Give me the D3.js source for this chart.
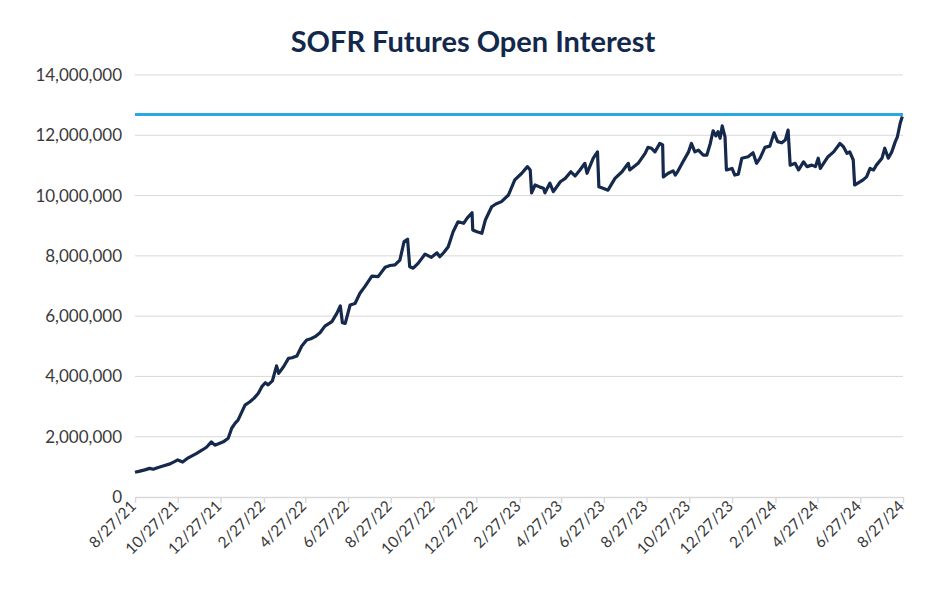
<!DOCTYPE html>
<html>
<head>
<meta charset="utf-8">
<script src="https://cdn.jsdelivr.net/npm/d3@7"></script>
<style>
  body { margin: 0; background: #fff; }
  svg { font-family: Lato, "Noto Sans", sans-serif; }
</style>
</head>
<body>
<svg id="chart"></svg>
<script>
// days since 8/27/21
const dayOffsets = [
  0, 7, 14, 21, 26, 33, 40, 50, 57, 61, 68, 76, 88, 96, 102, 109, 114, 126, 133, 138,
  143, 147, 153, 157, 164, 170, 176, 181, 186, 190, 196, 202, 205, 212, 219, 224, 231, 238, 245, 251,
  257, 264, 271, 281, 288, 293, 296, 300, 307, 314, 321, 328, 338, 347, 357, 364, 371, 378, 384, 389,
  392, 397, 404, 414, 423, 431, 435, 441, 447, 454, 461, 469, 474, 481, 482, 488, 495, 500, 509, 515,
  523, 533, 542, 552, 560, 564, 566, 571, 578, 583, 585, 592, 597, 607, 614, 622, 628, 635, 642, 645,
  654, 660, 662, 668, 675, 685, 695, 704, 706, 718, 728, 732, 737, 742, 749, 753, 754, 761, 768, 771,
  775, 782, 790, 794, 799, 804, 811, 816, 821, 825, 829, 832, 835, 838, 842, 844, 852, 856, 861, 866,
  875, 882, 887, 892, 899, 906, 912, 917, 923, 928, 932, 935, 942, 947, 954, 959, 966, 971, 975, 978,
  989, 997, 1006, 1011, 1016, 1020, 1025, 1027, 1035, 1039, 1044, 1049, 1054, 1058, 1066, 1070, 1075, 1080, 1085, 1088,
  1092, 1095
];

// open interest, millions of contracts
const openInterest = [
  0.82, 0.86, 0.90, 0.95, 0.92, 0.98, 1.03, 1.10, 1.18, 1.23, 1.16, 1.30, 1.45, 1.56, 1.65, 1.83, 1.72, 1.83, 1.95, 2.28,
  2.45, 2.55, 2.85, 3.05, 3.16, 3.28, 3.44, 3.66, 3.79, 3.72, 3.85, 4.35, 4.10, 4.32, 4.60, 4.62, 4.68, 5.01, 5.21, 5.25,
  5.32, 5.45, 5.67, 5.82, 6.09, 6.34, 5.78, 5.76, 6.37, 6.42, 6.76, 6.98, 7.33, 7.31, 7.62, 7.68, 7.70, 7.86, 8.47, 8.55,
  7.64, 7.59, 7.75, 8.06, 7.95, 8.10, 7.97, 8.12, 8.30, 8.80, 9.13, 9.08, 9.25, 9.43, 8.86, 8.80, 8.75, 9.19, 9.63, 9.72,
  9.80, 10.02, 10.52, 10.74, 10.96, 10.85, 10.09, 10.35, 10.28, 10.24, 10.09, 10.41, 10.13, 10.46, 10.57, 10.79, 10.65, 10.85, 11.07, 10.74,
  11.24, 11.45, 10.29, 10.24, 10.18, 10.57, 10.79, 11.07, 10.85, 11.07, 11.40, 11.60, 11.57, 11.45, 11.73, 11.68, 10.62, 10.74, 10.82, 10.68,
  10.82, 11.12, 11.45, 11.73, 11.45, 11.51, 11.34, 11.34, 11.73, 12.15, 11.98, 12.12, 11.90, 12.31, 11.95, 10.85, 10.90, 10.68, 10.71, 11.24,
  11.29, 11.42, 11.07, 11.24, 11.60, 11.64, 12.08, 11.79, 11.75, 11.84, 12.17, 11.01, 11.07, 10.85, 11.12, 10.96, 11.01, 10.96, 11.24, 10.90,
  11.29, 11.45, 11.73, 11.62, 11.40, 11.45, 11.18, 10.35, 10.46, 10.52, 10.62, 10.90, 10.85, 11.01, 11.24, 11.57, 11.24, 11.45, 11.79, 11.95,
  12.40, 12.62
];

const peakLevel = 12.69; // horizontal reference line, millions

const yTicks = [0, 2, 4, 6, 8, 10, 12, 14];
const xTickLabels = [
  "8/27/21", "10/27/21", "12/27/21", "2/27/22", "4/27/22", "6/27/22", "8/27/22", "10/27/22",
  "12/27/22", "2/27/23", "4/27/23", "6/27/23", "8/27/23", "10/27/23", "12/27/23", "2/27/24",
  "4/27/24", "6/27/24", "8/27/24"
];

const width = 940, height = 600;
const margin = { top: 75, right: 37, bottom: 103, left: 135 };

const svg = d3.select("#chart").attr("width", width).attr("height", height);

const parse = d3.timeParse("%-m/%-d/%y");
const start = parse(xTickLabels[0]);
const end = parse(xTickLabels[xTickLabels.length - 1]);
const tickDates = xTickLabels.map(parse);

const data = dayOffsets.map((d, i) => ({
  date: d3.timeDay.offset(start, d),
  value: openInterest[i] * 1e6
}));

const x = d3.scaleTime()
  .domain([start, end])
  .range([margin.left, width - margin.right]);

const y = d3.scaleLinear()
  .domain([0, 14e6])
  .range([height - margin.bottom, margin.top]);

// title
svg.append("text")
  .attr("x", 473)
  .attr("y", 52)
  .attr("text-anchor", "middle")
  .attr("font-size", 29)
  .attr("font-weight", 700)
  .attr("fill", "#13294b")
  .text("SOFR Futures Open Interest");

// gridlines
svg.append("g")
  .selectAll("line")
  .data(yTicks.filter(d => d > 0))
  .join("line")
  .attr("x1", margin.left)
  .attr("x2", width - margin.right)
  .attr("y1", d => y(d * 1e6))
  .attr("y2", d => y(d * 1e6))
  .attr("stroke", "#d9d9d9")
  .attr("stroke-width", 1);

// y axis labels
const yAxis = d3.axisLeft(y)
  .tickValues(yTicks.map(d => d * 1e6))
  .tickFormat(d3.format(","))
  .tickSize(0)
  .tickPadding(13);

svg.append("g")
  .attr("transform", `translate(${margin.left},0)`)
  .call(yAxis)
  .call(g => g.select(".domain").remove())
  .call(g => g.selectAll("text")
    .attr("font-size", 17)
    .attr("fill", "#3a3a3a")
    .attr("font-family", "Lato, 'Noto Sans', sans-serif"));

// x axis
const xAxis = d3.axisBottom(x)
  .tickValues(tickDates)
  .tickFormat((d, i) => xTickLabels[i])
  .tickSize(6)
  .tickSizeOuter(0);

svg.append("g")
  .attr("transform", `translate(0,${height - margin.bottom})`)
  .call(xAxis)
  .call(g => g.select(".domain").attr("stroke", "#d9d9d9").attr("stroke-width", 1.5))
  .call(g => g.selectAll(".tick line").attr("stroke", "#d9d9d9").attr("stroke-width", 1.5))
  .call(g => g.selectAll("text")
    .attr("font-size", 15.5)
    .attr("fill", "#3a3a3a")
    .attr("font-family", "Lato, 'Noto Sans', sans-serif")
    .attr("text-anchor", "end")
    .attr("dx", "0.2em")
    .attr("dy", "0.55em")
    .attr("transform", "translate(-13,0) rotate(-45)"));

// peak reference line
svg.append("line")
  .attr("x1", x(start))
  .attr("x2", x(end))
  .attr("y1", y(peakLevel * 1e6))
  .attr("y2", y(peakLevel * 1e6))
  .attr("stroke", "#29a9e1")
  .attr("stroke-width", 3);

// open interest line
const line = d3.line()
  .x(d => x(d.date))
  .y(d => y(d.value));

svg.append("path")
  .datum(data)
  .attr("fill", "none")
  .attr("stroke", "#14294b")
  .attr("stroke-width", 3.2)
  .attr("stroke-linejoin", "round")
  .attr("d", line);
</script>
</body>
</html>
